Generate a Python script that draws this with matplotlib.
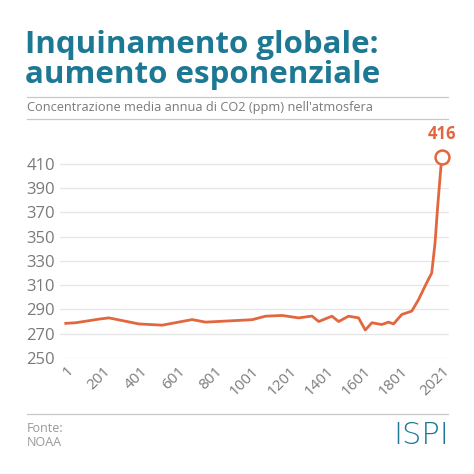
import matplotlib.pyplot as plt
from matplotlib.lines import Line2D

years = [1, 55, 180, 233, 394, 519, 680, 752, 1002, 1074, 1163, 1252, 1324, 1360, 1431,
         1467, 1520, 1574, 1610, 1646, 1699, 1735, 1762, 1806, 1860, 1896, 1940, 1967,
         1985, 1999, 2021]
co2 = [278.5, 279, 282, 283, 278, 277, 281.6, 279.5, 281.5, 284.4, 285, 283, 284.5, 280, 284.4,
       280, 284.4, 283, 273, 279, 277.5, 279.5, 278, 285.8, 288.6, 298, 312, 320,
       345, 375, 416]
xticks = [1, 201, 401, 601, 801, 1001, 1201, 1401, 1601, 1801, 2021]
yticks = [250, 270, 290, 310, 330, 350, 370, 390, 410]

orange = "#e2673f"
teal = "#1c7893"
grey = "#7a7a7a"
plt.rcParams['font.family'] = ['Open Sans', 'DejaVu Sans']

fig = plt.figure(figsize=(4.74, 4.74), dpi=100)
fig.text(25/474, 1-45/474, "Inquinamento globale:", color=teal, fontsize=22.5,
         fontweight="bold", va="center")
fig.text(25/474, 1-75/474, "aumento esponenziale", color=teal, fontsize=22.5,
         fontweight="bold", va="center")
fig.text(27/474, 1-108/474, "Concentrazione media annua di CO2 (ppm) nell'atmosfera",
         color=grey, fontsize=9.2, va="center")
for yp in [97, 119, 414]:
    fig.add_artist(Line2D([27/474, 448/474], [1-yp/474]*2, color="#c8c8c8", lw=0.9))
fig.text(27/474, 1-428/474, "Fonte:", color="#999999", fontsize=9, va="center")
fig.text(27/474, 1-443/474, "NOAA", color="#999999", fontsize=9, va="center")
fig.text(449/474, 1-435/474, "ISPI", color=teal, fontsize=22, ha="right", va="center",
         fontweight="light", fontfamily="DejaVu Sans")

ax = fig.add_axes([0.1266, 0.245, 0.8207, 0.4345])
ax.plot(years, co2, color=orange, lw=2)
ax.plot(years[-1], co2[-1], "o", ms=10, mfc="white", mec=orange, mew=1.8, clip_on=False)
ax.text(years[-1], co2[-1] + 11, str(round(co2[-1])), color=orange, fontsize=12,
        fontweight="bold", ha="center", va="bottom")
ax.set_xlim(-30, 2060)
ax.set_ylim(250, 420)
ax.set_yticks(yticks)
ax.set_xticks(xticks)
ax.set_xticklabels([str(t) for t in xticks], rotation=45, ha="right", rotation_mode="anchor")
ax.tick_params(length=0, colors=grey, labelsize=12)
ax.tick_params(axis="x", labelsize=11, pad=4)
ax.grid(axis="y", color="#e6e6e6", lw=0.9)
ax.set_axisbelow(True)
for s in ax.spines.values():
    s.set_visible(False)

fig.savefig("out.png", dpi=100)
